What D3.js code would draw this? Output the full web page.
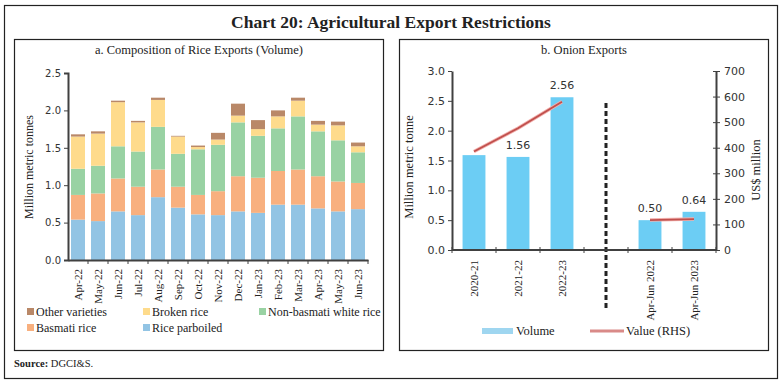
<!DOCTYPE html>
<html>
<head>
<meta charset="utf-8">
<script src="https://cdn.jsdelivr.net/npm/d3@7"></script>
<style>
  body { margin: 0; background: #fff; }
  svg { display: block; }
  .serif { font-family: "Liberation Serif", "DejaVu Serif", serif; }
  .num { font-family: "DejaVu Sans", Verdana, sans-serif; font-size: 10px; fill: #333; }
  .axis path, .axis line { stroke: #404040; }
</style>
</head>
<body>
<svg id="chart" width="783" height="384"></svg>
<script>
// ---- data: rice exports (million metric tonnes), stacked components
const months = ["Apr-22", "May-22", "Jun-22", "Jul-22", "Aug-22", "Sep-22", "Oct-22", "Nov-22",
  "Dec-22", "Jan-23", "Feb-23", "Mar-23", "Apr-23", "May-23", "Jun-23"];
const riceParboiled = [0.54, 0.52, 0.65, 0.60, 0.84, 0.70, 0.61, 0.60, 0.65, 0.63, 0.74, 0.74, 0.69, 0.65, 0.68];
const basmatiRice   = [0.33, 0.37, 0.44, 0.38, 0.37, 0.28, 0.26, 0.32, 0.47, 0.47, 0.45, 0.47, 0.43, 0.40, 0.35];
const nonBasmati    = [0.35, 0.37, 0.43, 0.47, 0.57, 0.44, 0.61, 0.62, 0.72, 0.56, 0.57, 0.71, 0.60, 0.55, 0.41];
const brokenRice    = [0.43, 0.43, 0.59, 0.39, 0.36, 0.23, 0.03, 0.07, 0.09, 0.09, 0.16, 0.21, 0.09, 0.20, 0.08];
const otherVarieties = [0.03, 0.03, 0.02, 0.02, 0.03, 0.01, 0.02, 0.09, 0.16, 0.12, 0.08, 0.04, 0.05, 0.05, 0.05];
const riceTicks = [0, 0.5, 1.0, 1.5, 2.0, 2.5];

// ---- data: onion exports
const onionCats = ["2020-21", "2021-22", "2022-23", "", "Apr-Jun 2022", "Apr-Jun 2023"];
const onionVolume = [1.59, 1.56, 2.56, null, 0.50, 0.64];
const onionVolumeLabels = ["", "1.56", "2.56", "", "0.50", "0.64"];
const onionValue = [385, 476, 580, null, 117, 121];
const volTicks = [0, 0.5, 1.0, 1.5, 2.0, 2.5, 3.0];
const valTicks = [0, 100, 200, 300, 400, 500, 600, 700];

const svg = d3.select("#chart");

// frames
svg.append("rect").attr("x", 4.5).attr("y", 5.5).attr("width", 773).attr("height", 373)
  .attr("fill", "none").attr("stroke", "#222").attr("stroke-width", 1.2);
svg.append("rect").attr("x", 14.5).attr("y", 39.5).attr("width", 369).attr("height", 311)
  .attr("fill", "none").attr("stroke", "#222").attr("stroke-width", 1.2);
svg.append("rect").attr("x", 399.5).attr("y", 39.5).attr("width", 369).attr("height", 311)
  .attr("fill", "none").attr("stroke", "#222").attr("stroke-width", 1.2);

svg.append("text").attr("class", "serif").attr("x", 391).attr("y", 28)
  .attr("text-anchor", "middle").attr("font-size", 17.5).attr("font-weight", "bold").attr("fill", "#222")
  .text("Chart 20: Agricultural Export Restrictions");
svg.append("text").attr("class", "serif").attr("x", 199).attr("y", 54)
  .attr("text-anchor", "middle").attr("font-size", 12.5).attr("fill", "#222")
  .text("a. Composition of Rice Exports (Volume)");
svg.append("text").attr("class", "serif").attr("x", 584).attr("y", 54)
  .attr("text-anchor", "middle").attr("font-size", 12.5).attr("fill", "#222")
  .text("b. Onion Exports");

const src = svg.append("text").attr("class", "serif").attr("x", 14).attr("y", 367)
  .attr("font-size", 10.5).attr("fill", "#222");
src.append("tspan").attr("font-weight", "bold").text("Source: ");
src.append("tspan").text("DGCI&S.");

// ---------------- panel a
const series = [
  { name: "Rice parboiled", values: riceParboiled, color: "#92c4e4" },
  { name: "Basmati rice", values: basmatiRice, color: "#f8b07f" },
  { name: "Non-basmati white rice", values: nonBasmati, color: "#99d2a3" },
  { name: "Broken rice", values: brokenRice, color: "#fedb8c" },
  { name: "Other varieties", values: otherVarieties, color: "#b98868" }
];

const ax = d3.scaleBand().domain(months).range([68, 368]).paddingInner(0.3).paddingOuter(0.15);
const ay = d3.scaleLinear().domain([0, 2.5]).range([260, 73]);

const rows = months.map((m, i) => {
  const r = { month: m };
  series.forEach(s => r[s.name] = s.values[i]);
  return r;
});
const stacked = d3.stack().keys(series.map(s => s.name))(rows);

svg.append("g").selectAll("g").data(stacked).join("g")
  .attr("fill", (d, i) => series[i].color)
  .selectAll("rect").data(d => d).join("rect")
  .attr("x", d => ax(d.data.month))
  .attr("width", ax.bandwidth())
  .attr("y", d => ay(d[1]))
  .attr("height", d => ay(d[0]) - ay(d[1]));

const ayAxis = svg.append("g").attr("class", "axis").attr("transform", "translate(68,0)")
  .call(d3.axisLeft(ay).tickValues(riceTicks).tickFormat(d3.format(".1f")).tickSizeOuter(0).tickSize(4));
ayAxis.select(".domain").attr("stroke-width", 2);
ayAxis.selectAll("text").attr("class", "num").attr("font-size", null).attr("fill", null);

const axAxis = svg.append("g").attr("class", "axis").attr("transform", "translate(0,260)")
  .call(d3.axisBottom(ax).tickSize(0).tickSizeOuter(0));
axAxis.select(".domain").attr("stroke-width", 2);
axAxis.selectAll("text")
  .attr("class", "serif").attr("font-size", 11).attr("fill", "#222")
  .attr("transform", "rotate(-90)").attr("text-anchor", "end")
  .attr("x", -9).attr("y", 0).attr("dy", "0.35em");
// boundary ticks between months
svg.append("g").selectAll("line").data(months).join("line")
  .attr("x1", (d, i) => ax(months[i]) + ax.bandwidth() + ax.step() * ax.paddingInner() / 2)
  .attr("x2", (d, i) => ax(months[i]) + ax.bandwidth() + ax.step() * ax.paddingInner() / 2)
  .attr("y1", 260).attr("y2", 264).attr("stroke", "#404040");

svg.append("text").attr("class", "serif").attr("transform", "translate(33,167) rotate(-90)")
  .attr("text-anchor", "middle").attr("font-size", 12).attr("fill", "#222")
  .text("Million metric tonnes");

const legA = [
  { s: series[4], x: 27, y: 312 }, { s: series[3], x: 143, y: 312 }, { s: series[2], x: 259, y: 312 },
  { s: series[1], x: 27, y: 328 }, { s: series[0], x: 143, y: 328 }
];
const lg = svg.append("g").selectAll("g").data(legA).join("g")
  .attr("transform", d => `translate(${d.x},${d.y})`);
lg.append("rect").attr("x", 0).attr("y", -4).attr("width", 7).attr("height", 7).attr("fill", d => d.s.color);
lg.append("text").attr("class", "serif").attr("x", 9).attr("y", 0).attr("dy", "0.35em")
  .attr("font-size", 12).attr("fill", "#222").text(d => d.s.name);

// ---------------- panel b
const bx = d3.scaleBand().domain(onionCats.map((c, i) => i)).range([452, 716]).paddingInner(0.48).paddingOuter(0.24);
const byL = d3.scaleLinear().domain([0, 3]).range([250, 71]);
const byR = d3.scaleLinear().domain([0, 700]).range([250, 71]);
const bstep = (716 - 452) / onionCats.length;
const bcenter = i => bx(i) + bx.bandwidth() / 2;

svg.append("g").selectAll("rect").data(onionVolume.map((v, i) => ({ v, i })).filter(d => d.v != null))
  .join("rect")
  .attr("x", d => bx(d.i)).attr("width", bx.bandwidth())
  .attr("y", d => byL(d.v)).attr("height", d => byL(0) - byL(d.v))
  .attr("fill", "#6ccdf4");

svg.append("g").selectAll("text").data(onionVolume.map((v, i) => ({ v, i })).filter(d => d.v != null))
  .join("text")
  .attr("class", "num")
  .attr("x", d => bcenter(d.i)).attr("y", d => byL(d.v) - 8)
  .attr("text-anchor", "middle").style("font-size", "11px")
  .text(d => onionVolumeLabels[d.i]);

const valLine = d3.line().defined(d => d.v != null).x(d => bcenter(d.i)).y(d => byR(d.v));
const valPts = onionValue.map((v, i) => ({ v, i }));
svg.append("path").datum(valPts).attr("d", valLine)
  .attr("fill", "none").attr("stroke", "#f2b0ad").attr("stroke-width", 3.5);
svg.append("path").datum(valPts).attr("d", valLine)
  .attr("fill", "none").attr("stroke", "#c0504d").attr("stroke-width", 1.8);

// separator
svg.append("line").attr("x1", bcenter(3)).attr("x2", bcenter(3)).attr("y1", 103).attr("y2", 308)
  .attr("stroke", "#222").attr("stroke-width", 3).attr("stroke-dasharray", "5,3");

const bl = svg.append("g").attr("class", "axis").attr("transform", "translate(452,0)")
  .call(d3.axisLeft(byL).tickValues(volTicks).tickFormat(d3.format(".1f")).tickSize(4).tickSizeOuter(0));
bl.select(".domain").attr("stroke-width", 2);
bl.selectAll("text").attr("class", "num").style("font-size", "11px").attr("font-size", null).attr("fill", null);

const br = svg.append("g").attr("class", "axis").attr("transform", "translate(716,0)")
  .call(d3.axisRight(byR).tickValues(valTicks).tickSize(4).tickSizeOuter(0));
br.select(".domain").attr("stroke-width", 2);
br.selectAll("line").attr("x1", -3);
br.selectAll("text").attr("class", "num").style("font-size", "11px").attr("font-size", null).attr("fill", null).attr("x", 8);

const bb = svg.append("g").attr("class", "axis").attr("transform", "translate(0,250)");
bb.append("line").attr("x1", 452).attr("x2", 716).attr("y1", 0).attr("y2", 0)
  .attr("stroke", "#404040").attr("stroke-width", 2);
bb.selectAll(".tk").data(d3.range(onionCats.length + 1)).join("line").attr("class", "tk")
  .attr("x1", i => 452 + bstep * i)
  .attr("x2", i => 452 + bstep * i)
  .attr("y1", -3).attr("y2", 3).attr("stroke", "#404040");
bb.selectAll("text").data(onionCats.map((c, i) => ({ c, i }))).join("text")
  .attr("class", "serif").attr("font-size", 11).attr("fill", "#222")
  .attr("transform", d => `translate(${bcenter(d.i)},10) rotate(-90)`)
  .attr("text-anchor", "end").attr("dy", "0.35em")
  .text(d => d.c);

svg.append("text").attr("class", "serif").attr("transform", "translate(413,167) rotate(-90)")
  .attr("text-anchor", "middle").attr("font-size", 12.5).attr("fill", "#222")
  .text("Million metric tonne");
svg.append("text").attr("class", "serif").attr("transform", "translate(760,170) rotate(-90)")
  .attr("text-anchor", "middle").attr("font-size", 12.5).attr("fill", "#222")
  .text("US$ million");

// legend b
svg.append("rect").attr("x", 482).attr("y", 328).attr("width", 31).attr("height", 6).attr("fill", "#9fd6f0");
svg.append("text").attr("class", "serif").attr("x", 516).attr("y", 331).attr("dy", "0.35em")
  .attr("font-size", 12.5).attr("fill", "#222").text("Volume");
svg.append("line").attr("x1", 590).attr("x2", 624).attr("y1", 331).attr("y2", 331)
  .attr("stroke", "#d98a88").attr("stroke-width", 3);
svg.append("text").attr("class", "serif").attr("x", 626).attr("y", 331).attr("dy", "0.35em")
  .attr("font-size", 12.5).attr("fill", "#222").text("Value (RHS)");
</script>
</body>
</html>
